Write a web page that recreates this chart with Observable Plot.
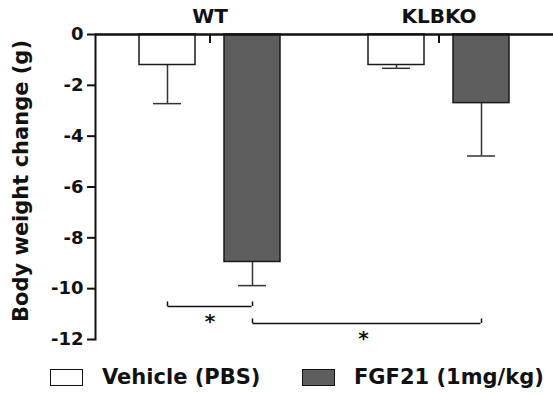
<!DOCTYPE html>
<html>
<head>
<meta charset="utf-8">
<script src="https://cdn.jsdelivr.net/npm/d3@7"></script>
<script src="https://cdn.jsdelivr.net/npm/@observablehq/plot@0.6"></script>
<style>
  body { margin: 0; background: #fff; }
  #wrap { position: relative; width: 553px; height: 395px; overflow: hidden; background: #fff;
          font-family: "DejaVu Sans", sans-serif; font-weight: bold; color: #111; }
  .item { position: absolute; top: 364px; height: 26px; display: flex; align-items: center; font-size: 21px; white-space: nowrap; }
  .sw { width: 31px; height: 15px; border: 1.5px solid #111; margin-right: 19px; }
</style>
</head>
<body>
<div id="wrap"></div>
<script>
// ---- data ----
const groups = ["WT", "KLBKO"];
const treatments = ["Vehicle (PBS)", "FGF21 (1mg/kg)"];
const vehicleMean = [-1.2, -1.2];
const vehicleSem = [1.52, 0.13];
const fgf21Mean = [-8.95, -2.7];
const fgf21Sem = [0.93, 2.08];
const yTicks = [0, -2, -4, -6, -8, -10, -12];
// significance brackets: from [group, treatment] to [group, treatment], level (g), label
const sigFrom = [["WT", "Vehicle (PBS)"], ["WT", "FGF21 (1mg/kg)"]];
const sigTo = [["WT", "FGF21 (1mg/kg)"], ["KLBKO", "FGF21 (1mg/kg)"]];
const sigLevel = [-10.7, -11.37];
const sigLabel = ["*", "*"];

const rows = groups.flatMap((g, i) => [
  {group: g, treatment: treatments[0], mean: vehicleMean[i], sem: vehicleSem[i]},
  {group: g, treatment: treatments[1], mean: fgf21Mean[i], sem: fgf21Sem[i]}
]);

const ink = "#111";
const half = 28.5;   // half bar width (px) for bracket insets
const outer = 44;    // outer band padding (px) to reach (and overlap) the facet edge

// bracket pieces
const bracketMarks = [];
sigLevel.forEach((lvl, k) => {
  const [g1, t1] = sigFrom[k], [g2, t2] = sigTo[k];
  const one = [{lvl}];
  if (g1 === g2) {
    bracketMarks.push(Plot.ruleY(one, {fx: () => g1, x1: () => t1, x2: () => t2, y: "lvl",
      insetLeft: half, insetRight: half, stroke: ink, strokeWidth: 1.5}));
    bracketMarks.push(Plot.text([sigLabel[k]], {fx: () => g1, x: null, y: () => lvl, dy: 15,
      fontSize: 20, fill: ink}));
  } else {
    bracketMarks.push(Plot.ruleY(one, {fx: () => g1, x1: () => t1, x2: () => treatments[1], y: "lvl",
      insetLeft: half, insetRight: -outer, stroke: ink, strokeWidth: 1.5}));
    bracketMarks.push(Plot.ruleY(one, {fx: () => g2, x1: () => treatments[0], x2: () => t2, y: "lvl",
      insetLeft: -outer, insetRight: half, stroke: ink, strokeWidth: 1.5}));
    bracketMarks.push(Plot.text([sigLabel[k]], {fx: () => g2, x: () => treatments[0], y: () => lvl,
      dx: -33, dy: 15, fontSize: 20, fill: ink}));
  }
  bracketMarks.push(Plot.ruleX([[g1, t1], [g2, t2]], {fx: d => d[0], x: d => d[1],
    y1: () => lvl, y2: () => lvl, insetTop: -4.5, stroke: ink, strokeWidth: 1.5}));
});

const chart = Plot.plot({
  width: 553,
  height: 358,
  marginLeft: 95,
  marginRight: 0,
  marginTop: 34,
  marginBottom: 19,
  style: {fontFamily: "DejaVu Sans, sans-serif", fontWeight: "bold", fontSize: "18px", color: ink, background: "#fff", overflow: "visible"},
  fx: {domain: groups, padding: 0, axis: null},
  x: {domain: treatments, paddingInner: 0.337, paddingOuter: 0.5, axis: null},
  y: {domain: [-12, 0], axis: null},
  color: {domain: treatments, range: ["#ffffff", "#5e5e5e"]},
  marks: [
    Plot.ruleX(rows, {fx: "group", x: "treatment", y1: "mean", y2: d => d.mean - d.sem,
      stroke: "#333", strokeWidth: 1.5}),
    Plot.tickY(rows, {fx: "group", x: "treatment", y: d => d.mean - d.sem,
      insetLeft: 14, insetRight: 14, stroke: "#333", strokeWidth: 1.5}),
    Plot.barY(rows, {fx: "group", x: "treatment", y1: 0, y2: "mean", fill: "treatment",
      stroke: "#1a1a1a", strokeWidth: 1.5}),
    ...bracketMarks,
    Plot.ruleY([0], {stroke: ink, strokeWidth: 2.5}),
    Plot.ruleX(groups, {fx: d => d, x: null, y1: () => 0, y2: () => 0, insetBottom: -9,
      stroke: ink, strokeWidth: 2}),
    Plot.axisFx({anchor: "top", tickSize: 0, tickPadding: 12, fontSize: 20, label: null}),
    Plot.frame({anchor: "left", facetAnchor: "left", stroke: ink, strokeWidth: 2}),
    Plot.axisY(yTicks, {anchor: "left", tickSize: 8, tickPadding: 4, strokeWidth: 2,
      tickFormat: d => String(d), label: null, fontSize: 18}),
    Plot.text(["Body weight change (g)"], {frameAnchor: "left", facetAnchor: "left", rotate: -90,
      textAnchor: "middle", dx: -74, dy: -6, fontSize: 21, fill: ink})
  ]
});

const wrap = document.getElementById("wrap");
wrap.appendChild(chart);
const legendFills = ["#ffffff", "#5e5e5e"];
const legendLeft = [50, 302];
treatments.forEach((t, i) => {
  const it = document.createElement("div");
  it.className = "item";
  it.style.left = legendLeft[i] + "px";
  const sw = document.createElement("span");
  sw.className = "sw";
  sw.style.background = legendFills[i];
  const tx = document.createElement("span");
  tx.textContent = t;
  it.appendChild(sw); it.appendChild(tx);
  wrap.appendChild(it);
});
</script>
</body>
</html>
